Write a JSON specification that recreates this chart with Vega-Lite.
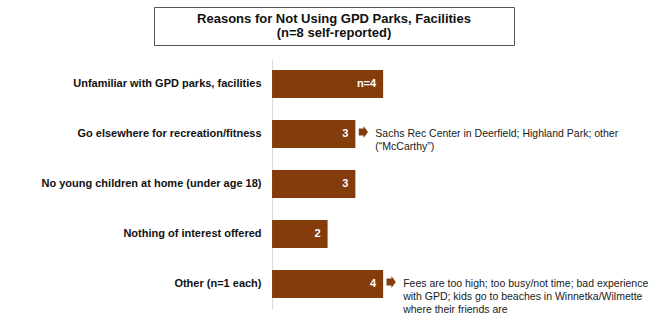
{
  "$schema": "https://vega.github.io/schema/vega-lite/v6.json",
  "background": "white",
  "padding": {"left": 40, "top": 6, "right": 4, "bottom": 0},
  "spacing": 13,
  "config": {"view": {"stroke": null}},
  "vconcat": [
    {
      "width": 360,
      "height": 38,
      "view": {"stroke": "#555555", "strokeWidth": 1},
      "data": {"values": [{"heading": "Reasons for Not Using GPD Parks, Facilities\n(n=8 self-reported)"}]},
      "mark": {"type": "text", "font": "Liberation Sans", "fontWeight": "bold", "fontSize": 13, "lineBreak": "\n", "lineHeight": 14, "baseline": "middle", "dy": -7, "align": "center", "color": "#111111"},
      "encoding": {"text": {"field": "heading"}}
    },
    {
      "width": 493,
      "height": 250,
      "data": {"values": [
        {"reason": "Unfamiliar with GPD parks, facilities", "count": 4, "label": "n=4", "note": ""},
        {"reason": "Go elsewhere for recreation/fitness", "count": 3, "label": "3", "note": "Sachs Rec Center in Deerfield; Highland Park; other\n(“McCarthy”)"},
        {"reason": "No young children at home (under age 18)", "count": 3, "label": "3", "note": ""},
        {"reason": "Nothing of interest offered", "count": 2, "label": "2", "note": ""},
        {"reason": "Other (n=1 each)", "count": 4, "label": "4", "note": "Fees are too high; too busy/not time; bad experience\nwith GPD; kids go to beaches in Winnetka/Wilmette\nwhere their friends are"}
      ]},
      "encoding": {
        "y": {
          "field": "reason", "type": "nominal", "sort": null,
          "scale": {"paddingInner": 0.44, "paddingOuter": 0.22},
          "axis": {"title": null, "orient": "left", "offset": -118, "ticks": false, "domainColor": "#d9d9d9", "labelPadding": 11, "labelFont": "Liberation Sans", "labelFontWeight": "bold", "labelFontSize": 11, "labelColor": "#111111", "labelLimit": 400}
        },
        "x": {
          "field": "count", "type": "quantitative",
          "scale": {"domain": [-4.25, 13.5], "nice": false, "zero": false},
          "axis": null
        }
      },
      "layer": [
        {"mark": {"type": "bar", "color": "#843c0c"}, "encoding": {"x2": {"datum": 0}}},
        {"mark": {"type": "text", "align": "right", "baseline": "middle", "dx": -7, "font": "Liberation Sans", "fontWeight": "bold", "fontSize": 11, "color": "white"}, "encoding": {"text": {"field": "label"}}},
        {
          "transform": [{"filter": "datum.note != ''"}],
          "mark": {"type": "point", "filled": true, "color": "#843c0c", "opacity": 1, "size": 150, "xOffset": 8, "yOffset": -2, "shape": "M-0.75,-0.58 L0.05,-0.58 L0.05,-1 L0.75,0 L0.05,1 L0.05,0.58 L-0.75,0.58 Z"},
          "encoding": {}
        },
        {
          "transform": [{"filter": "datum.note != ''"}],
          "mark": {"type": "text", "align": "left", "baseline": "top", "dx": 20, "dy": -5, "lineBreak": "\n", "lineHeight": 13, "font": "Liberation Sans", "fontSize": 10.5, "color": "#1a1a1a"},
          "encoding": {"text": {"field": "note"}}
        }
      ]
    }
  ]
}
